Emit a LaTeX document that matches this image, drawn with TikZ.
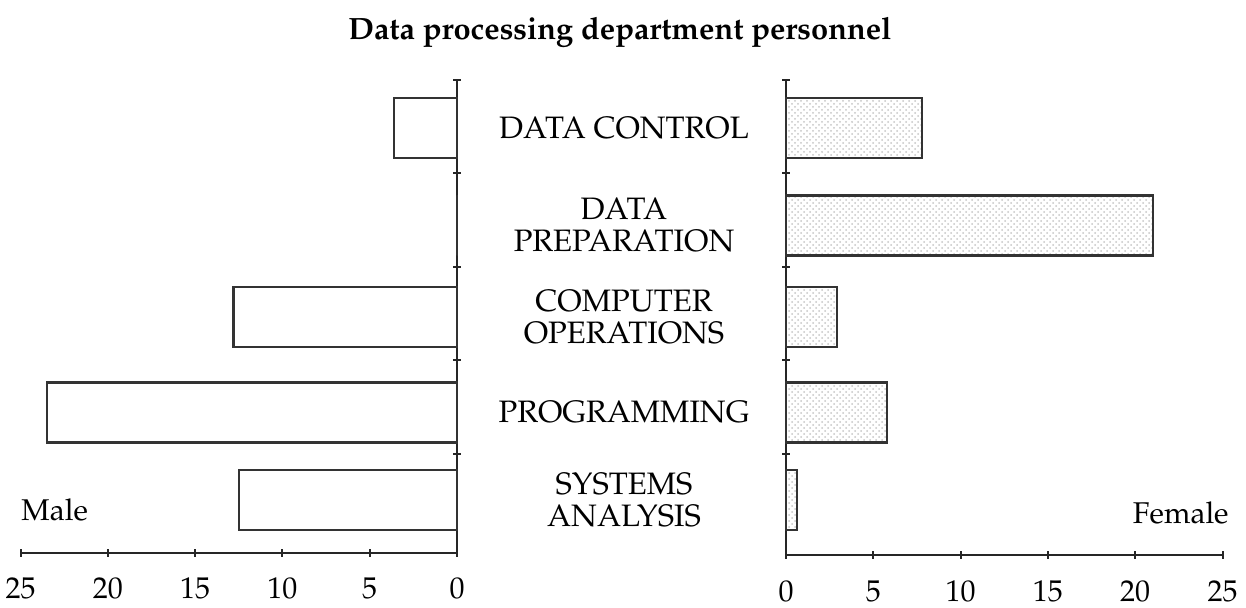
\documentclass[tikz,border=0pt]{standalone}
\usepackage[T1]{fontenc}
\usepackage{mathpazo}
\usetikzlibrary{patterns}
\tikzstyle{axis}=[draw=black!85, line width=1pt]
\tikzstyle{malebar}=[draw=black!80, fill=white, line width=1.1pt]
\tikzstyle{femalebar}=[draw=black!80, pattern=crosshatch dots, pattern color=gray!45, line width=1.1pt]
\tikzstyle{category}=[font=\fontsize{15.5}{16}\selectfont, align=center, inner sep=0pt]
\tikzstyle{ticklabel}=[font=\fontsize{15}{15}\selectfont, inner sep=0pt]
\tikzstyle{title}=[font=\bfseries\fontsize{15.4}{16}\selectfont, inner sep=0pt]

\begin{document}
\begin{tikzpicture}[x=0.5pt, y=-0.5pt]
	\def\unit{17.46}
	\def\lzero{457}
	\def\rzero{786}
	\useasboundingbox (0,0) rectangle (1246,608);

	% Title
	\node[title] (title) at (620,32) {Data processing department personnel};

	% Axes
	\draw[axis] (\lzero,80) -- (\lzero,553) -- (21,553);
	\draw[axis] (\rzero,80) -- (\rzero,555) -- (1222,555);
	\foreach \y in {80,173.5,267,360.5,454} {
		\draw[axis] (\lzero-4,\y) -- ++(8,0);
		\draw[axis] (\rzero-4,\y) -- ++(8,0);
	}
	\foreach \v in {0,5,...,25} {
		\draw[axis] (\lzero-\v*\unit,549) -- ++(0,8);
		\draw[axis] (\rzero+\v*\unit,551) -- ++(0,8);
		\node[ticklabel] (male\v) at (\lzero-\v*\unit,588) {\v};
		\node[ticklabel] (female\v) at (\rzero+\v*\unit,591) {\v};
	}

	% Bars and categories
	\foreach \name/\y/\m/\f/\txt in {control/128/3.6/7.8/{DATA CONTROL},
			preparation/225.5/0/21/{DATA\\PREPARATION},
			operations/317/12.8/2.9/{COMPUTER\\OPERATIONS},
			programming/412.5/23.5/5.8/{PROGRAMMING},
			systems/500/12.5/0.65/{SYSTEMS\\ANALYSIS}} {
		\draw[malebar] (\lzero,\y-30) rectangle ++(-\m*\unit,60);
		\draw[femalebar] (\rzero,\y-30) rectangle ++(\f*\unit,60);
		\node[category] (\name) at (624,\y) {\txt};
	}

	% Sides
	\node[ticklabel, anchor=west] (male) at (21,510) {Male};
	\node[ticklabel, anchor=east] (female) at (1229,513) {Female};

\end{tikzpicture}
\end{document}
